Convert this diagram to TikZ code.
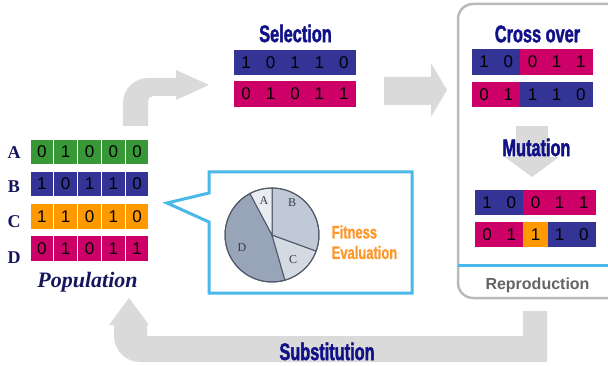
\documentclass[tikz,border=0pt]{standalone}
\usepackage{fontspec}
\setmainfont{Liberation Serif}
\newfontfamily\bitfont{Liberation Sans}
\newfontfamily\headfont[FakeStretch=0.68,FakeBold=1.6]{Liberation Sans}
\newfontfamily\fitfont[FakeStretch=0.72,FakeBold=0.8]{Liberation Sans}
\newfontfamily\repfont{Liberation Sans}
\definecolor{cgreen}{RGB}{56,152,56}
\definecolor{cnavy}{RGB}{52,52,150}
\definecolor{corange}{RGB}{255,153,0}
\definecolor{cmag}{RGB}{204,0,102}
\definecolor{headblue}{RGB}{16,16,135}
\definecolor{popblue}{RGB}{22,22,95}
\definecolor{agray}{RGB}{218,218,218}
\definecolor{boxgray}{RGB}{185,185,185}
\definecolor{lineblue}{RGB}{74,184,232}
\definecolor{fitorange}{RGB}{255,150,40}
\definecolor{reptext}{RGB}{100,100,100}
\definecolor{pieA}{RGB}{232,236,240}
\definecolor{pieB}{RGB}{192,202,214}
\definecolor{pieC}{RGB}{212,218,226}
\definecolor{pieD}{RGB}{152,164,184}
\definecolor{pieline}{RGB}{80,88,104}
\definecolor{pietext}{RGB}{55,60,75}
\begin{document}
\begin{tikzpicture}[x=1pt,y=1pt,
  popcell/.style={draw=white, line width=1.2pt, minimum width=23.8pt, minimum height=26pt, inner sep=0pt,
     font=\bitfont\fontsize{17}{17}\selectfont},
  bit/.style={inner sep=0pt, font=\bitfont\fontsize{17}{17}\selectfont},
  rowlabel/.style={font=\bfseries\fontsize{18}{18}\selectfont, text=popblue, inner sep=0pt},
  heading/.style={font=\headfont\bfseries\fontsize{24}{24}\selectfont, text=headblue, inner sep=0pt},
  fittext/.style={font=\fitfont\bfseries\fontsize{18}{18}\selectfont, text=fitorange, inner sep=0pt, anchor=west},
  pielabel/.style={font=\fontsize{12}{12}\selectfont, text=pietext, inner sep=0pt},
  blockarrow/.style={fill=agray, draw=none}
]
\useasboundingbox (0,0) rectangle (608,-366);
\clip (0,0) rectangle (608,-366);

% ---------- gray block arrows ----------
% population -> selection
\fill[blockarrow] (123,-126) -- (123,-103) arc[start angle=180, end angle=90, radius=25] -- (176,-78) -- (176,-70)
  -- (209,-85) -- (176,-100) -- (176,-96) -- (153,-96) arc[start angle=90, end angle=180, radius=5] -- (148,-126) -- cycle;
% selection -> crossover
\fill[blockarrow] (384,-77) -- (431,-77) -- (431,-63) -- (447,-90) -- (431,-117) -- (431,-105) -- (384,-105) -- cycle;
% substitution
\fill[blockarrow] (547,-311) -- (547,-362) -- (140,-362) arc[start angle=270, end angle=180, radius=26] -- (114,-325)
  -- (109,-325) -- (129,-298) -- (149,-325) -- (147,-325) -- (147,-336) -- (523,-336) -- (523,-311) -- cycle;
\node[heading] (subst) at (327,-351.5) {Substitution};

% ---------- population ----------
\node[rowlabel] (la) at (14,-153) {A};
\node[rowlabel] (lb) at (14,-187) {B};
\node[rowlabel] (lc) at (14,-222) {C};
\node[rowlabel] (ld) at (14,-258) {D};
\foreach \d [count=\i from 0] in {0,1,0,0,0} \node[popcell, fill=cgreen] (pa\i) at (41.9+23.8*\i,-152) {\d};
\foreach \d [count=\i from 0] in {1,0,1,1,0} \node[popcell, fill=cnavy] (pb\i) at (41.9+23.8*\i,-184) {\d};
\foreach \d [count=\i from 0] in {1,1,0,1,0} \node[popcell, fill=corange] (pc\i) at (41.9+23.8*\i,-216.5) {\d};
\foreach \d [count=\i from 0] in {0,1,0,1,1} \node[popcell, fill=cmag] (pd\i) at (41.9+23.8*\i,-248.5) {\d};
\node[font=\bfseries\itshape\fontsize{22}{22}\selectfont, text=popblue, inner sep=0pt] (pop) at (87.5,-282) {Population};

% ---------- selection ----------
\node[heading] (sel) at (295.5,-33.5) {Selection};
\fill[cnavy] (234,-50) rectangle (356,-75);
\fill[cmag] (234,-81) rectangle (356,-107);
\foreach \d [count=\i from 0] in {1,0,1,1,0} \node[bit] (s1\i) at (246.2+24.4*\i,-62.5) {\d};
\foreach \d [count=\i from 0] in {0,1,0,1,1} \node[bit] (s2\i) at (246.2+24.4*\i,-94) {\d};

% ---------- reproduction box ----------
\draw[draw=boxgray, line width=2.5pt, rounded corners=15pt] (458,-4) rectangle (630,-298);
\draw[lineblue, line width=3pt] (458,-266) -- (610,-266);
\node[font=\repfont\bfseries\fontsize{16}{16}\selectfont, text=reptext, inner sep=0pt] (rep) at (537.5,-285) {Reproduction};

% crossover
\node[heading] (cross) at (537.5,-34) {Cross over};
\fill[cnavy] (472,-49) rectangle (520.4,-75);
\fill[cmag] (520.4,-49) rectangle (593,-75);
\fill[cmag] (472,-82) rectangle (520.4,-107);
\fill[cnavy] (520.4,-82) rectangle (593,-107);
\foreach \d [count=\i from 0] in {1,0,0,1,1} \node[bit] (c1\i) at (484.1+24.2*\i,-62) {\d};
\foreach \d [count=\i from 0] in {0,1,1,1,0} \node[bit] (c2\i) at (484.1+24.2*\i,-94.5) {\d};

% mutation arrow and text
\fill[blockarrow] (516,-126) rectangle (548,-157.5);
\fill[blockarrow] (505,-157) -- (559,-157) -- (532,-177) -- cycle;
\node[heading] (mut) at (536.5,-147.5) {Mutation};

% mutated rows
\fill[cnavy] (475,-190) rectangle (523.4,-215);
\fill[cmag] (523.4,-190) rectangle (596,-215);
\fill[cmag] (475,-222) rectangle (523.4,-247);
\fill[corange] (523.4,-222) rectangle (547.6,-247);
\fill[cnavy] (547.6,-222) rectangle (596,-247);
\foreach \d [count=\i from 0] in {1,0,0,1,1} \node[bit] (m1\i) at (487.1+24.2*\i,-202.5) {\d};
\foreach \d [count=\i from 0] in {0,1,1,1,0} \node[bit] (m2\i) at (487.1+24.2*\i,-234.5) {\d};

% ---------- fitness callout ----------
\draw[lineblue, line width=3pt, fill=white] (209,-172) -- (412,-172) -- (412,-293) -- (209,-293) -- (209,-222)
  -- (167,-203) -- (209,-193) -- cycle;
\begin{scope}[shift={(272,-235)}, draw=pieline, line width=1pt]
  \filldraw[fill=pieD] (0,0) -- (118:47) arc[start angle=118, end angle=286, radius=47] -- cycle;
  \filldraw[fill=pieC] (0,0) -- (286:47) arc[start angle=286, end angle=340, radius=47] -- cycle;
  \filldraw[fill=pieB] (0,0) -- (340:47) arc[start angle=-20, end angle=90, radius=47] -- cycle;
  \filldraw[fill=pieA] (0,0) -- (90:47) arc[start angle=90, end angle=118, radius=47] -- cycle;
  \draw (0,0) circle[radius=47];
\end{scope}
\node[pielabel] (pla) at (264,-201) {A};
\node[pielabel] (plb) at (292,-203) {B};
\node[pielabel] (plc) at (293,-260) {C};
\node[pielabel] (pld) at (242,-248) {D};
\node[fittext] (fit1) at (331.5,-232) {Fitness};
\node[fittext] (fit2) at (331.5,-252.5) {Evaluation};
\end{tikzpicture}
\end{document}
